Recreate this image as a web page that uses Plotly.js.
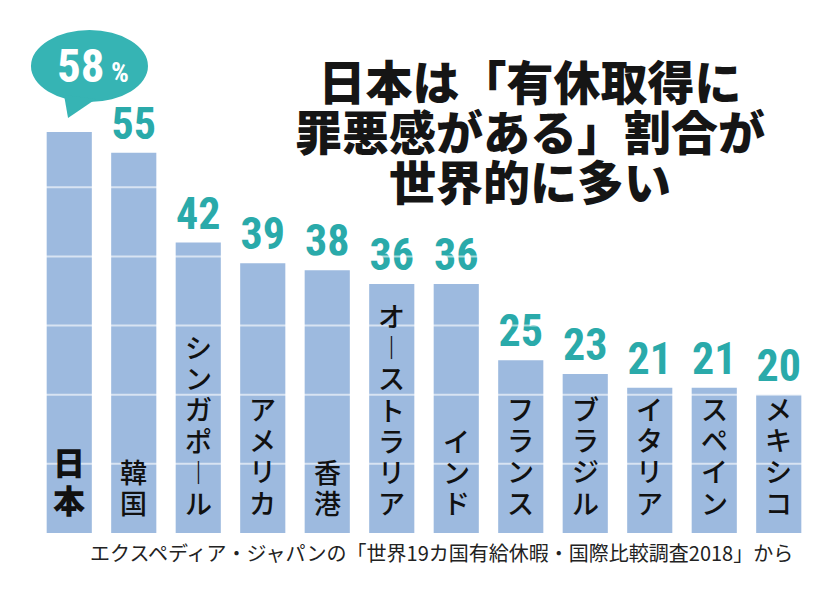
<!DOCTYPE html>
<html>
<head>
<meta charset="utf-8">
<script src="https://cdn.plot.ly/plotly-3.0.1.min.js"></script>
<style>
html,body{margin:0;padding:0;background:#fff;}
#chart{width:840px;height:599px;}
</style>
</head>
<body>
<div id="chart"></div>
<script>
// ---- data ----
const categories = ['日本','韓国','シンガポール','アメリカ','香港','オーストラリア','インド','フランス','ブラジル','イタリア','スペイン','メキシコ'];
const values = [58,55,42,39,38,36,36,25,23,21,21,20];
const gridValues = [10,20,30,40,50];
const highlightCategory = '日本';
const titleLines = ['日本は「有休取得に','罪悪感がある」割合が','世界的に多い'];
const sourceText = 'エクスペディア・ジャパンの「世界19カ国有給休暇・国際比較調査2018」から';

// ---- styles ----
const barColor = '#9dbadf';
const teal = '#2aaaaa';
const bubbleColor = '#36b4b4';
const numFont = 'Roboto Condensed, Liberation Sans Narrow, Arial Narrow, sans-serif';
const jpFont = 'Noto Sans CJK JP, sans-serif';

const barText = values.map((v, i) => categories[i] === highlightCategory ? '' : String(v));

const trace = {
  type: 'bar',
  x: categories,
  y: values,
  text: barText,
  textposition: 'outside',
  texttemplate: '%{text}',
  constraintext: 'none',
  cliponaxis: false,
  textfont: {family: numFont, size: 44, color: teal, weight: 'bold'},
  marker: {color: barColor, line: {width: 0}},
  hoverinfo: 'skip'
};

// vertical stacking: long vowel mark drawn as vertical stroke in vertical writing
function verticalize(label, glyphSize) {
  return Array.from(label)
    .map(ch => '<span style="font-size:' + glyphSize + 'px">' + (ch === 'ー' ? '︱' : ch) + '</span>')
    .join('<br>');
}

const annotations = [];
categories.forEach((c, i) => {
  const isHi = c === highlightCategory;
  annotations.push({
    x: c, y: 0, xref: 'x', yref: 'y',
    xanchor: 'center', yanchor: 'bottom', yshift: 9,
    text: verticalize(c, isHi ? 32 : 27),
    showarrow: false,
    font: {family: jpFont, size: isHi ? 29 : 24, color: '#111', weight: isHi ? 900 : 500}
  });
});
// title (line pitch from base size, glyphs enlarged via span)
annotations.push({
  x: 0.637, y: 0.8347, xref: 'paper', yref: 'paper',
  xanchor: 'center', yanchor: 'middle', showarrow: false,
  text: titleLines.map(t => '<span style="font-size:47px">' + t + '</span>').join('<br>'),
  font: {family: jpFont, size: 38.5, color: '#151515', weight: 900}
});
// bubble label
const hiIdx = categories.indexOf(highlightCategory);
annotations.push({
  x: 0.0724, y: 0.965, xref: 'paper', yref: 'paper',
  xanchor: 'center', yanchor: 'middle', showarrow: false,
  text: String(values[hiIdx]) + '<span style="font-size:28px"> %</span>',
  font: {family: numFont, size: 47, color: '#ffffff', weight: 'bold'}
});
// source
annotations.push({
  x: 0.523, y: -0.0413, xref: 'paper', yref: 'paper',
  xanchor: 'center', yanchor: 'middle', showarrow: false,
  text: sourceText,
  font: {family: jpFont, size: 20, color: '#222'}
});

const shapes = [];
gridValues.forEach(v => {
  shapes.push({
    type: 'line', xref: 'paper', yref: 'y', x0: 0, x1: 1, y0: v, y1: v,
    line: {color: 'rgba(255,255,255,0.6)', width: 2}, layer: 'above'
  });
});
shapes.push({
  type: 'circle', xref: 'paper', yref: 'paper',
  x0: -0.0078, x1: 0.1434, y0: 0.8905, y1: 1.039,
  fillcolor: bubbleColor, line: {width: 0}, layer: 'above'
});
shapes.push({
  type: 'path', xref: 'paper', yref: 'paper',
  path: 'M0.0349,0.905 L0.0762,0.8967 L0.0401,0.8574 Z',
  fillcolor: bubbleColor, line: {width: 0}, layer: 'above'
});

const layout = {
  width: 840, height: 599,
  margin: {l: 37, r: 29, t: 49, b: 66},
  paper_bgcolor: '#ffffff', plot_bgcolor: '#ffffff',
  bargap: 0.30,
  showlegend: false,
  xaxis: {type: 'category', showticklabels: false, showgrid: false, zeroline: false, showline: false, ticks: ''},
  yaxis: {range: [0, 70], showticklabels: false, showgrid: false, zeroline: false, showline: false, ticks: ''},
  annotations: annotations,
  shapes: shapes
};

Plotly.newPlot('chart', [trace], layout, {staticPlot: true, displayModeBar: false});
</script>
</body>
</html>
